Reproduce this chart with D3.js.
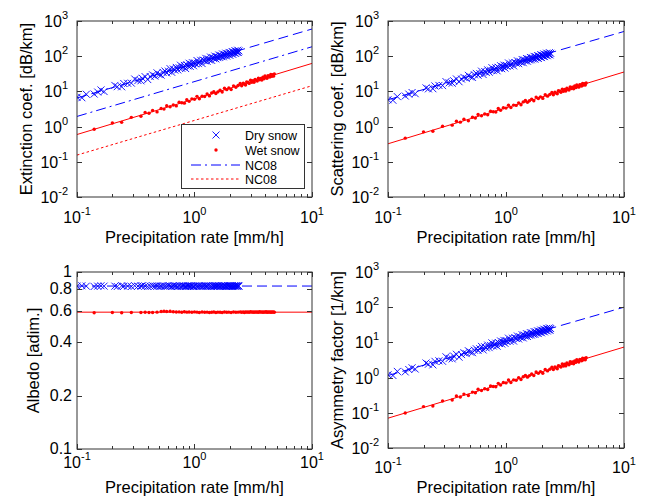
<!DOCTYPE html>
<html>
<head>
<meta charset="utf-8">
<script src="https://cdn.jsdelivr.net/npm/d3@7"></script>
<style>
  body { margin: 0; background: #fff; }
  text { font-family: "Liberation Sans", Arial, Helvetica, sans-serif; fill: #000; }
</style>
</head>
<body>
<svg id="svg"></svg>
<script>
// ---- data ----
var dryRate = [0.10,0.11,0.12,0.14,0.15,0.16,0.17,0.21,0.22,0.24,0.25,0.27,0.29,0.31,0.33,0.35,0.36,0.38,0.40,0.42,
  0.44,0.46,0.48,0.50,0.52,0.54,0.56,0.58,0.60,0.62,0.64,0.66,0.68,0.70,0.72,0.74,0.76,0.78,0.80,0.82,
  0.84,0.86,0.88,0.90,0.92,0.94,0.96,0.98,1.00,1.02,1.05,1.08,1.10,1.13,1.16,1.19,1.22,1.25,1.28,1.31,
  1.34,1.37,1.40,1.43,1.46,1.49,1.52,1.55,1.58,1.61,1.64,1.67,1.70,1.73,1.76,1.79,1.82,1.85,1.88,1.91,
  1.94,1.97,2.00,2.03,2.06,2.09,2.12,2.15,2.18,2.21,2.24,2.27,2.30,2.33,2.36,2.39];
var dryExt = [6.8,6.6,8.3,8.4,9.6,11.0,9.9,14.8,13.6,13.5,16.8,17.0,17.2,22.5,20.4,20.0,23.6,26.3,21.7,26.4,
  29.5,27.2,33.7,30.1,29.0,34.6,38.0,33.4,37.6,44.2,34.8,43.2,40.3,48.0,40.8,46.9,55.5,45.2,49.3,54.8,
  44.6,56.6,53.0,63.1,51.4,58.9,65.4,53.5,64.5,60.7,75.5,61.6,68.2,76.4,61.8,77.5,74.1,86.8,71.4,83.6,
  78.2,94.5,76.0,92.0,85.5,101,83.8,97.7,91.0,108,92.1,106,97.5,116,96.2,113,104,122,101,118,
  110,128,106,125,117,136,113,131,124,143,120,138,129,148,127,141];
var dryScat = [5.8,5.6,7.1,7.4,8.4,9.3,8.6,12.6,11.8,11.9,14.3,14.8,14.6,19.0,17.5,17.1,20.1,22.6,18.8,22.4,
  25.0,23.4,28.6,25.8,25.0,29.6,32.5,28.8,32.1,37.7,30.1,36.8,34.6,41.0,35.0,40.0,47.3,38.9,42.0,46.7,
  38.5,48.3,45.4,53.7,44.1,50.3,55.8,46.0,55.0,52.0,64.4,52.9,58.4,65.2,53.1,66.2,63.6,74.0,61.3,71.5,
  67.2,80.6,65.3,78.7,73.4,86.1,72.0,83.6,78.2,92.2,79.1,90.8,83.7,99.0,82.7,96.6,89.3,104,86.9,101,
  94.5,110,91.2,107,100,116,97.3,112,106,122,103,118,111,126,109,121];
var dryAlb = [0.832,0.836,0.832,0.828,0.832,0.836,0.832,0.832,0.828,0.836,0.832,0.832,0.828,0.836,0.832,0.832,0.836,0.832,0.828,0.832,
  0.836,0.832,0.832,0.828,0.832,0.836,0.832,0.832,0.836,0.832,0.828,0.836,0.832,0.832,0.828,0.836,0.832,0.832,0.836,0.832,
  0.828,0.832,0.836,0.832,0.832,0.836,0.832,0.828,0.832,0.836,0.832,0.832,0.836,0.832,0.828,0.832,0.836,0.832,0.832,0.836,
  0.832,0.832,0.828,0.836,0.832,0.832,0.836,0.832,0.832,0.836,0.828,0.832,0.836,0.832,0.832,0.836,0.832,0.832,0.828,0.836,
  0.832,0.832,0.836,0.832,0.832,0.836,0.828,0.832,0.836,0.832,0.832,0.836,0.832,0.832,0.836,0.832];
var dryAsym = [1.2,1.15,1.5,1.45,1.7,1.9,1.75,2.6,2.4,2.3,2.9,3.0,2.9,3.9,3.5,3.4,4.1,4.6,3.8,4.5,
  5.1,4.8,5.8,5.3,5.1,6.0,6.6,5.9,6.6,7.7,6.1,7.5,7.0,8.4,7.1,8.2,9.7,7.9,8.6,9.5,
  7.8,9.9,9.3,11.0,9.0,10.3,11.4,9.4,11.3,10.6,13.2,10.8,11.9,13.3,10.9,13.5,13.0,15.2,12.5,14.6,
  13.7,16.5,13.4,16.1,15.0,17.7,14.7,17.1,16.0,18.9,16.2,18.6,17.1,20.3,16.9,19.8,18.3,21.3,17.8,20.7,
  19.3,22.4,18.7,21.9,20.5,23.8,19.9,22.9,21.7,25.0,21.1,24.2,22.6,25.9,22.3,24.7];

var wetRate = [0.14,0.20,0.24,0.29,0.35,0.38,0.41,0.44,0.48,0.52,0.55,0.58,0.62,0.66,0.70,0.74,0.78,0.82,0.86,0.90,
  0.95,1.00,1.05,1.10,1.16,1.22,1.28,1.34,1.40,1.46,1.52,1.58,1.65,1.72,1.80,1.88,1.96,2.05,2.15,2.25,
  2.35,2.45,2.52,2.60,2.66,2.72,2.78,2.85,2.92,3.00,3.07,3.14,3.21,3.28,3.35,3.42,3.50,3.58,3.66,3.74,
  3.82,3.90,3.98,4.06,4.14,4.22,4.30,4.38,4.46,4.54,4.62,4.70,4.78];
var wetExt = [0.84,1.27,1.32,1.83,1.97,2.53,2.39,2.88,2.62,3.28,3.14,3.94,3.65,4.09,3.87,4.91,4.74,4.64,5.82,5.21,
  6.14,5.98,7.23,6.17,7.29,7.15,8.45,7.45,8.99,9.82,8.74,9.67,10.8,9.66,12.3,11.2,12.5,11.3,14.4,13.1,
  14.7,16.7,14.4,17.0,16.0,15.2,18.5,18.0,16.9,20.7,18.1,20.3,18.2,22.0,20.6,19.6,23.8,21.4,23.5,21.0,
  25.3,22.9,27.3,24.6,23.6,27.7,27.1,25.5,30.1,27.0,29.7,27.1,31.1];
var wetScat = [0.47,0.71,0.74,1.02,1.10,1.42,1.34,1.61,1.47,1.84,1.76,2.21,2.04,2.29,2.17,2.75,2.65,2.60,3.26,2.92,
  3.44,3.35,4.05,3.46,4.08,4.00,4.73,4.17,5.03,5.50,4.89,5.42,6.05,5.41,6.89,6.27,7.00,6.33,8.06,7.34,
  8.23,9.35,8.06,9.52,8.96,8.51,10.4,10.1,9.46,11.6,10.1,11.4,10.2,12.3,11.5,11.0,13.3,12.0,13.2,11.8,
  14.2,12.8,15.3,13.8,13.2,15.5,15.2,14.3,16.9,15.1,16.6,15.2,17.4];
var wetAlb = [0.588,0.590,0.589,0.591,0.590,0.592,0.591,0.590,0.593,0.598,0.601,0.598,0.600,0.596,0.594,0.595,0.592,0.596,0.593,0.594,
  0.592,0.595,0.593,0.591,0.594,0.592,0.593,0.590,0.592,0.594,0.591,0.593,0.592,0.590,0.594,0.592,0.593,0.591,0.594,0.592,
  0.593,0.595,0.592,0.594,0.591,0.595,0.593,0.594,0.592,0.596,0.593,0.594,0.592,0.595,0.593,0.594,0.592,0.596,0.593,0.595,
  0.592,0.594,0.593,0.596,0.592,0.594,0.593,0.595,0.592,0.594,0.593,0.595,0.592];
var wetAsym = [0.099,0.150,0.156,0.216,0.232,0.299,0.282,0.340,0.309,0.387,0.371,0.465,0.431,0.483,0.457,0.579,0.559,0.548,0.687,0.615,
  0.725,0.706,0.853,0.728,0.860,0.844,0.997,0.879,1.06,1.16,1.03,1.14,1.27,1.14,1.45,1.32,1.48,1.33,1.70,1.55,
  1.73,1.97,1.70,2.01,1.89,1.79,2.18,2.12,1.99,2.44,2.14,2.40,2.15,2.60,2.43,2.31,2.81,2.53,2.77,2.48,
  2.99,2.70,3.22,2.90,2.78,3.27,3.20,3.01,3.55,3.19,3.50,3.20,3.67];

// power-law fits y = a * R^b, per panel (ext, scat, albedo, asym)
var dryFitA = [62, 54, 0.833, 10.7];
var dryFitB = [0.98, 0.97, 0, 0.97];
var wetFitA = [6.1, 3.4, 0.593, 0.72];
var wetFitB = [1.01, 1.02, 0, 1.01];
var nc08Dry = [19, 0.99];
var nc08Wet = [1.5, 0.985];
var fitRange = [0.1, 10];

var xTicks = [0.1, 1, 10];
var xTickExp = ["-1", "0", "1"];
var logTicks = [1e-2, 1e-1, 1, 10, 100, 1000];
var logTickExp = ["-2", "-1", "0", "1", "2", "3"];
var albTicks = [0.1, 0.2, 0.4, 0.6, 0.8, 1];
var albTickLabels = ["0.1", "0.2", "0.4", "0.6", "0.8", "1"];

var legendLabels = ["Dry snow", "Wet snow", "NC08", "NC08"];

// ---- layout ----
var panels = [
  {ylabel: "Extinction coef. [dB/km]", dry: dryExt, wet: wetExt, k: 0, left: 77, right: 312, top: 21, bottom: 197,
   ydom: [1e-2, 1e3], ylabX: 26, tickDy: 26, xlabDy: 46, nc08: true},
  {ylabel: "Scattering coef. [dB/km]", dry: dryScat, wet: wetScat, k: 1, left: 388, right: 624, top: 21, bottom: 197,
   ydom: [1e-2, 1e3], ylabX: 337, tickDy: 26, xlabDy: 46},
  {ylabel: "Albedo [adim.]", dry: dryAlb, wet: wetAlb, k: 2, left: 77, right: 312, top: 272, bottom: 449,
   ydom: [0.1, 1], ylabX: 33, tickDy: 19, xlabDy: 44, albedo: true},
  {ylabel: "Asymmetry factor [1/km]", dry: dryAsym, wet: wetAsym, k: 3, left: 388, right: 624, top: 272, bottom: 448,
   ydom: [1e-2, 1e3], ylabX: 337, tickDy: 25, xlabDy: 45}
];

var blue = "#0000ff", red = "#ff0000";
var xMark = "M-3.5,-3.5L3.5,3.5M-3.5,3.5L3.5,-3.5";

var svg = d3.select("#svg").attr("width", 646).attr("height", 502);

function powerLine(x, y, a, b) {
  return d3.line()
    .x(function(d) { return x(d); })
    .y(function(d) { return y(a * Math.pow(d, b)); })(fitRange);
}

function tenLabel(sel, exp) {
  sel.append("tspan").text("10");
  sel.append("tspan").attr("dy", -8).attr("font-size", 11).text(exp);
}

panels.forEach(function(p, i) {
  var x = d3.scaleLog().domain([0.1, 10]).range([p.left, p.right]);
  var y = d3.scaleLog().domain(p.ydom).range([p.bottom, p.top]);
  var g = svg.append("g");

  g.append("clipPath").attr("id", "clip" + i)
    .append("rect")
      .attr("x", p.left).attr("y", p.top)
      .attr("width", p.right - p.left).attr("height", p.bottom - p.top);

  var plot = g.append("g").attr("clip-path", "url(#clip" + i + ")");

  // fit lines
  plot.append("path")
      .attr("d", powerLine(x, y, dryFitA[p.k], dryFitB[p.k]))
      .attr("fill", "none").attr("stroke", blue).attr("stroke-width", 1)
      .attr("stroke-dasharray", "10,5");
  plot.append("path")
      .attr("d", powerLine(x, y, wetFitA[p.k], wetFitB[p.k]))
      .attr("fill", "none").attr("stroke", red).attr("stroke-width", 1);
  if (p.nc08) {
    plot.append("path")
        .attr("d", powerLine(x, y, nc08Dry[0], nc08Dry[1]))
        .attr("fill", "none").attr("stroke", blue).attr("stroke-width", 1)
        .attr("stroke-dasharray", "10,4,2,4");
    plot.append("path")
        .attr("d", powerLine(x, y, nc08Wet[0], nc08Wet[1]))
        .attr("fill", "none").attr("stroke", red).attr("stroke-width", 1)
        .attr("stroke-dasharray", "2.5,2.5");
  }

  // points
  plot.append("g").selectAll("path")
    .data(dryRate)
    .enter().append("path")
      .attr("d", xMark)
      .attr("transform", function(d, j) { return "translate(" + x(d) + "," + y(p.dry[j]) + ")"; })
      .attr("stroke", blue).attr("stroke-width", 0.9).attr("fill", "none");
  plot.append("g").selectAll("circle")
    .data(wetRate)
    .enter().append("circle")
      .attr("cx", function(d) { return x(d); })
      .attr("cy", function(d, j) { return y(p.wet[j]); })
      .attr("r", 1.7)
      .attr("fill", red);

  // box
  g.append("rect")
      .attr("x", p.left).attr("y", p.top)
      .attr("width", p.right - p.left).attr("height", p.bottom - p.top)
      .attr("fill", "none").attr("stroke", "#333").attr("stroke-width", 1);

  // x ticks, major + minor, bottom and top, pointing inward
  var xMinor = [];
  [0.1, 1].forEach(function(dec) { for (var m = 2; m <= 9; m++) xMinor.push(dec * m); });
  var ticks = g.append("g").attr("stroke", "#333").attr("stroke-width", 1);
  xTicks.concat(xMinor).forEach(function(v) {
    var len = xTicks.indexOf(v) >= 0 ? 5 : 3;
    var px = Math.round(x(v)) + 0.5;
    ticks.append("line").attr("x1", px).attr("x2", px).attr("y1", p.bottom).attr("y2", p.bottom - len);
    ticks.append("line").attr("x1", px).attr("x2", px).attr("y1", p.top).attr("y2", p.top + len);
  });
  var yt = p.albedo ? albTicks : logTicks;
  yt.forEach(function(v) {
    var py = Math.round(y(v)) + 0.5;
    ticks.append("line").attr("x1", p.left).attr("x2", p.left + 5).attr("y1", py).attr("y2", py);
    ticks.append("line").attr("x1", p.right).attr("x2", p.right - 5).attr("y1", py).attr("y2", py);
  });

  // tick labels
  g.append("g").selectAll("text")
    .data(xTicks)
    .enter().append("text")
      .attr("x", function(d) { return x(d); })
      .attr("y", p.bottom + p.tickDy)
      .attr("text-anchor", "middle")
      .attr("font-size", 16)
      .each(function(d, j) { tenLabel(d3.select(this), xTickExp[j]); });

  g.append("g").selectAll("text")
    .data(yt)
    .enter().append("text")
      .attr("x", p.albedo ? p.left - 5 : p.left - 9)
      .attr("y", function(d) { return y(d) + (p.albedo ? 5 : 6); })
      .attr("text-anchor", "end")
      .attr("font-size", 16)
      .each(function(d, j) {
        if (p.albedo) d3.select(this).text(albTickLabels[j]);
        else tenLabel(d3.select(this), logTickExp[j]);
      });

  // axis labels
  g.append("text")
      .attr("x", (p.left + p.right) / 2)
      .attr("y", p.bottom + p.xlabDy)
      .attr("text-anchor", "middle")
      .attr("font-size", 16.5)
      .text("Precipitation rate [mm/h]");
  g.append("text")
      .attr("transform", "translate(" + p.ylabX + "," + ((p.top + p.bottom) / 2) + ") rotate(-90)")
      .attr("text-anchor", "middle")
      .attr("dominant-baseline", "central")
      .attr("font-size", 16.5)
      .text(p.ylabel);
});

// legend (first panel)
var leg = svg.append("g");
leg.append("rect")
    .attr("x", 181.5).attr("y", 124.5).attr("width", 123).attr("height", 64)
    .attr("fill", "#fff").attr("stroke", "#333").attr("stroke-width", 1);
var rowY = [135, 150, 165, 179];
leg.append("path").attr("d", xMark).attr("transform", "translate(216," + rowY[0] + ")")
    .attr("stroke", blue).attr("stroke-width", 0.9).attr("fill", "none");
leg.append("circle").attr("cx", 216).attr("cy", rowY[1]).attr("r", 1.7).attr("fill", red);
leg.append("line").attr("x1", 191).attr("x2", 240).attr("y1", rowY[2]).attr("y2", rowY[2])
    .attr("stroke", blue).attr("stroke-dasharray", "10,4,2,4");
leg.append("line").attr("x1", 191).attr("x2", 240).attr("y1", rowY[3]).attr("y2", rowY[3])
    .attr("stroke", red).attr("stroke-dasharray", "2.5,2.5");
leg.selectAll("text.lab")
  .data(legendLabels)
  .enter().append("text")
    .attr("class", "lab")
    .attr("x", 245)
    .attr("y", function(d, j) { return rowY[j] + 4.5; })
    .attr("font-size", 12.5)
    .text(function(d) { return d; });
</script>
</body>
</html>
